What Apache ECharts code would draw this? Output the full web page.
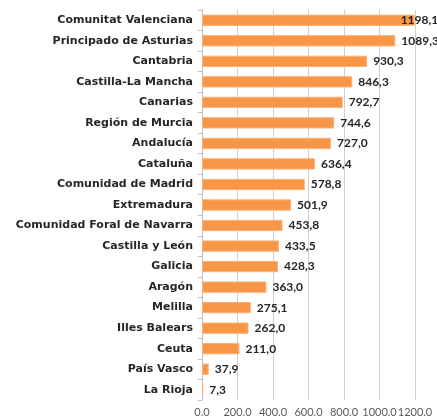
<!DOCTYPE html>
<html>
<head>
<meta charset="utf-8">
<script src="https://cdn.jsdelivr.net/npm/echarts@6/dist/echarts.min.js"></script>
<style>
  html, body { margin: 0; padding: 0; background: #fff; }
  #chart { width: 437px; height: 419px; }
</style>
</head>
<body>
<div id="chart"></div>
<script>
// regiones, de abajo hacia arriba (el eje de categorias empieza abajo)
const regiones = [
  "La Rioja", "País Vasco", "Ceuta", "Illes Balears", "Melilla", "Aragón",
  "Galicia", "Castilla y León", "Comunidad Foral de Navarra", "Extremadura",
  "Comunidad de Madrid", "Cataluña", "Andalucía", "Región de Murcia",
  "Canarias", "Castilla-La Mancha", "Cantabria", "Principado de Asturias",
  "Comunitat Valenciana"
];
const valores = [
  7.3, 37.9, 211.0, 262.0, 275.1, 363.0,
  428.3, 433.5, 453.8, 501.9,
  578.8, 636.4, 727.0, 744.6,
  792.7, 846.3, 930.3, 1089.3,
  1198.1
];
const ejeMin = 0, ejeMax = 1200, ejePaso = 200;

let myChart = echarts.init(document.getElementById("chart"));
const fuenteCat = "DejaVu Sans";
const fuenteNum = "Lato";

// la etiqueta del valor mas grande no cabe: se mete un poco dentro de la barra (como en Excel)
const datos = valores.map((v) =>
  v >= 1150 ? { value: v, label: { offset: [-20, 0] } } : v
);

let option = {
  animation: false,
  grid: { left: 202, right: 22, top: 10, bottom: 19, containLabel: false },
  xAxis: {
    type: "value",
    min: ejeMin,
    max: ejeMax,
    interval: ejePaso,
    axisLine: { show: false },
    axisTick: { show: false },
    splitLine: { show: true, lineStyle: { color: "#d0d0d0", width: 1 } },
    axisLabel: {
      color: "#595959",
      fontFamily: fuenteNum,
      fontSize: 11,
      margin: 7,
      hideOverlap: false,
      formatter: (v) => v.toFixed(1)
    }
  },
  yAxis: {
    type: "category",
    data: regiones,
    axisLine: { show: true, lineStyle: { color: "#bfbfbf" } },
    axisTick: { show: true, length: 4, lineStyle: { color: "#bfbfbf" } },
    axisLabel: {
      color: "#262626",
      fontFamily: fuenteCat,
      fontWeight: "bold",
      fontSize: 11,
      margin: 9
    }
  },
  series: [{
    type: "bar",
    data: datos,
    barCategoryGap: "45%",
    itemStyle: { color: "#f79646", borderColor: "#fbb27a", borderWidth: 1 },
    label: {
      show: true,
      position: "right",
      distance: 6,
      color: "#262626",
      fontFamily: fuenteNum,
      fontWeight: "bold",
      fontSize: 12,
      formatter: (p) => p.value.toFixed(1).replace(".", ",")
    }
  }]
};

myChart.setOption(option);
</script>
</body>
</html>
